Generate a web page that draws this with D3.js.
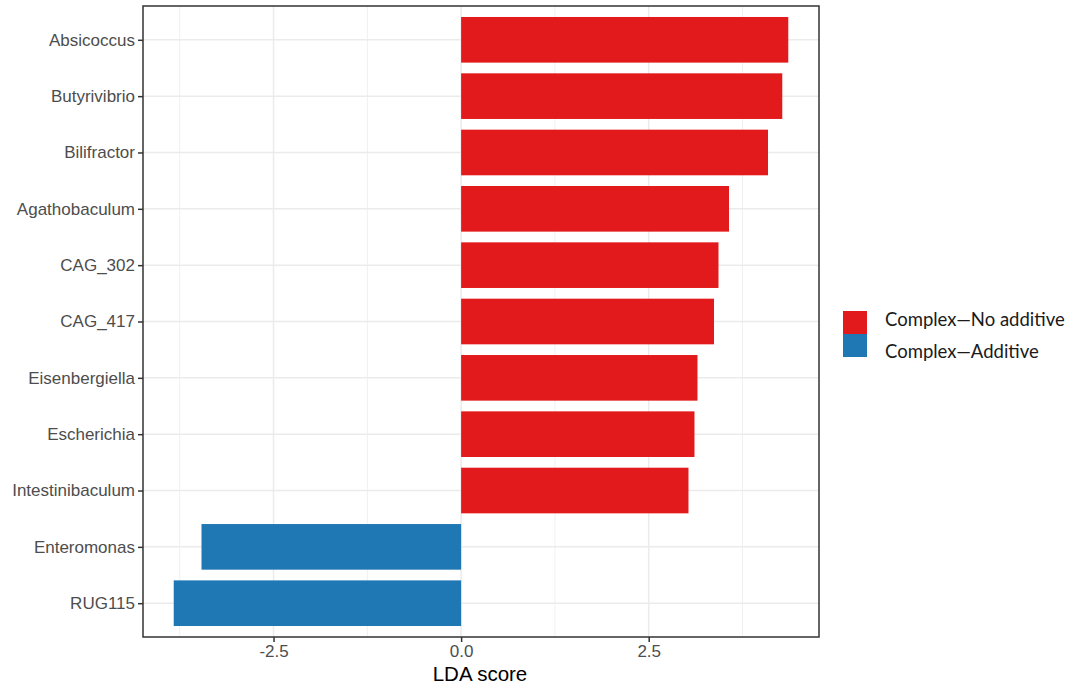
<!DOCTYPE html>
<html>
<head>
<meta charset="utf-8">
<script src="https://cdn.jsdelivr.net/npm/d3@7"></script>
<style>
  html, body { margin: 0; padding: 0; background: #fff; }
  svg { display: block; }
</style>
</head>
<body>
<svg id="chart" width="1073" height="688"></svg>
<script>
// Genera with their LDA scores (top to bottom)
const genera = ["Absicoccus", "Butyrivibrio", "Bilifractor", "Agathobaculum", "CAG_302",
  "CAG_417", "Eisenbergiella", "Escherichia", "Intestinibaculum", "Enteromonas", "RUG115"];
const ldaScores = [4.36, 4.28, 4.09, 3.57, 3.43, 3.37, 3.15, 3.11, 3.03, -3.46, -3.83];
const groups = ["Complex—No additive", "Complex—No additive", "Complex—No additive",
  "Complex—No additive", "Complex—No additive", "Complex—No additive", "Complex—No additive",
  "Complex—No additive", "Complex—No additive", "Complex—Additive", "Complex—Additive"];
const legendGroups = ["Complex—No additive", "Complex—Additive"];
const groupColors = ["#E31A1C", "#1F78B4"];
const xTicks = [-2.5, 0, 2.5];
const xMinorTicks = [-3.75, -1.25, 1.25, 3.75];

const svg = d3.select("#chart");
const panel = { left: 143, right: 819, top: 6, bottom: 637 };

// Continuous x with ggplot-style 5% expansion
const lo = d3.min(ldaScores), hi = d3.max(ldaScores);
const pad = (hi - lo) * 0.05;
const x = d3.scaleLinear().domain([lo - pad, hi + pad]).range([panel.left, panel.right]);

// Discrete y with 0.6-unit expansion on each side
const n = genera.length;
const step = (panel.bottom - panel.top) / (n - 1 + 1.2);
const y = d3.scalePoint().domain(genera)
  .range([panel.top + 0.6 * step, panel.bottom - 0.6 * step]);
const barH = step * 0.81;

const color = d3.scaleOrdinal().domain(legendGroups).range(groupColors);

// Panel grid
const grid = svg.append("g");
grid.selectAll("line.minor").data(xMinorTicks).join("line")
  .attr("x1", d => x(d)).attr("x2", d => x(d))
  .attr("y1", panel.top).attr("y2", panel.bottom)
  .attr("stroke", "#F0F0F0").attr("stroke-width", 1);
grid.selectAll("line.majx").data(xTicks).join("line")
  .attr("x1", d => x(d)).attr("x2", d => x(d))
  .attr("y1", panel.top).attr("y2", panel.bottom)
  .attr("stroke", "#EBEBEB").attr("stroke-width", 1.5);
grid.selectAll("line.majy").data(genera).join("line")
  .attr("x1", panel.left).attr("x2", panel.right)
  .attr("y1", d => y(d)).attr("y2", d => y(d))
  .attr("stroke", "#EBEBEB").attr("stroke-width", 1.5);

// Bars
svg.append("g").selectAll("rect").data(genera).join("rect")
  .attr("x", (d, i) => x(Math.min(0, ldaScores[i])))
  .attr("width", (d, i) => Math.abs(x(ldaScores[i]) - x(0)))
  .attr("y", d => y(d) - barH / 2)
  .attr("height", barH)
  .attr("fill", (d, i) => color(groups[i]));

// Panel border
svg.append("rect")
  .attr("x", panel.left).attr("y", panel.top)
  .attr("width", panel.right - panel.left).attr("height", panel.bottom - panel.top)
  .attr("fill", "none").attr("stroke", "#333333").attr("stroke-width", 1.5);

// Axes (tick labels use a plain hyphen for negatives)
const xAxis = d3.axisBottom(x).tickValues(xTicks).tickFormat(d => d.toFixed(1))
  .tickSize(5).tickPadding(3);
const gx = svg.append("g").attr("transform", `translate(0,${panel.bottom})`).call(xAxis);
const yAxis = d3.axisLeft(y).tickSize(5).tickPadding(3);
const gy = svg.append("g").attr("transform", `translate(${panel.left},0)`).call(yAxis);

[gx, gy].forEach(g => {
  g.select(".domain").remove();
  g.selectAll(".tick line").attr("stroke", "#333333").attr("stroke-width", 1.5);
  g.selectAll(".tick text")
    .attr("fill", "#4D4D4D")
    .style("font-family", "'Liberation Sans', Arial, sans-serif")
    .style("font-size", "17px");
});

// X axis title
svg.append("text")
  .attr("x", (panel.left + panel.right) / 2 - 1).attr("y", 681)
  .attr("text-anchor", "middle")
  .style("font-family", "'Liberation Sans', Arial, sans-serif")
  .style("font-size", "20.5px")
  .attr("fill", "#000")
  .text("LDA score");

// Legend
const legend = svg.append("g").attr("transform", "translate(843,311)");
legendGroups.forEach((g, i) => {
  legend.append("rect")
    .attr("y", i * 23).attr("width", 24).attr("height", 23)
    .attr("fill", groupColors[i]);
  legend.append("text")
    .attr("x", 42).attr("y", 15 + i * 32)
    .style("font-family", "Lato, 'Open Sans', sans-serif")
    .style("font-size", "18.5px")
    .attr("fill", "#1a1a1a")
    .text(g);
});
</script>
</body>
</html>
